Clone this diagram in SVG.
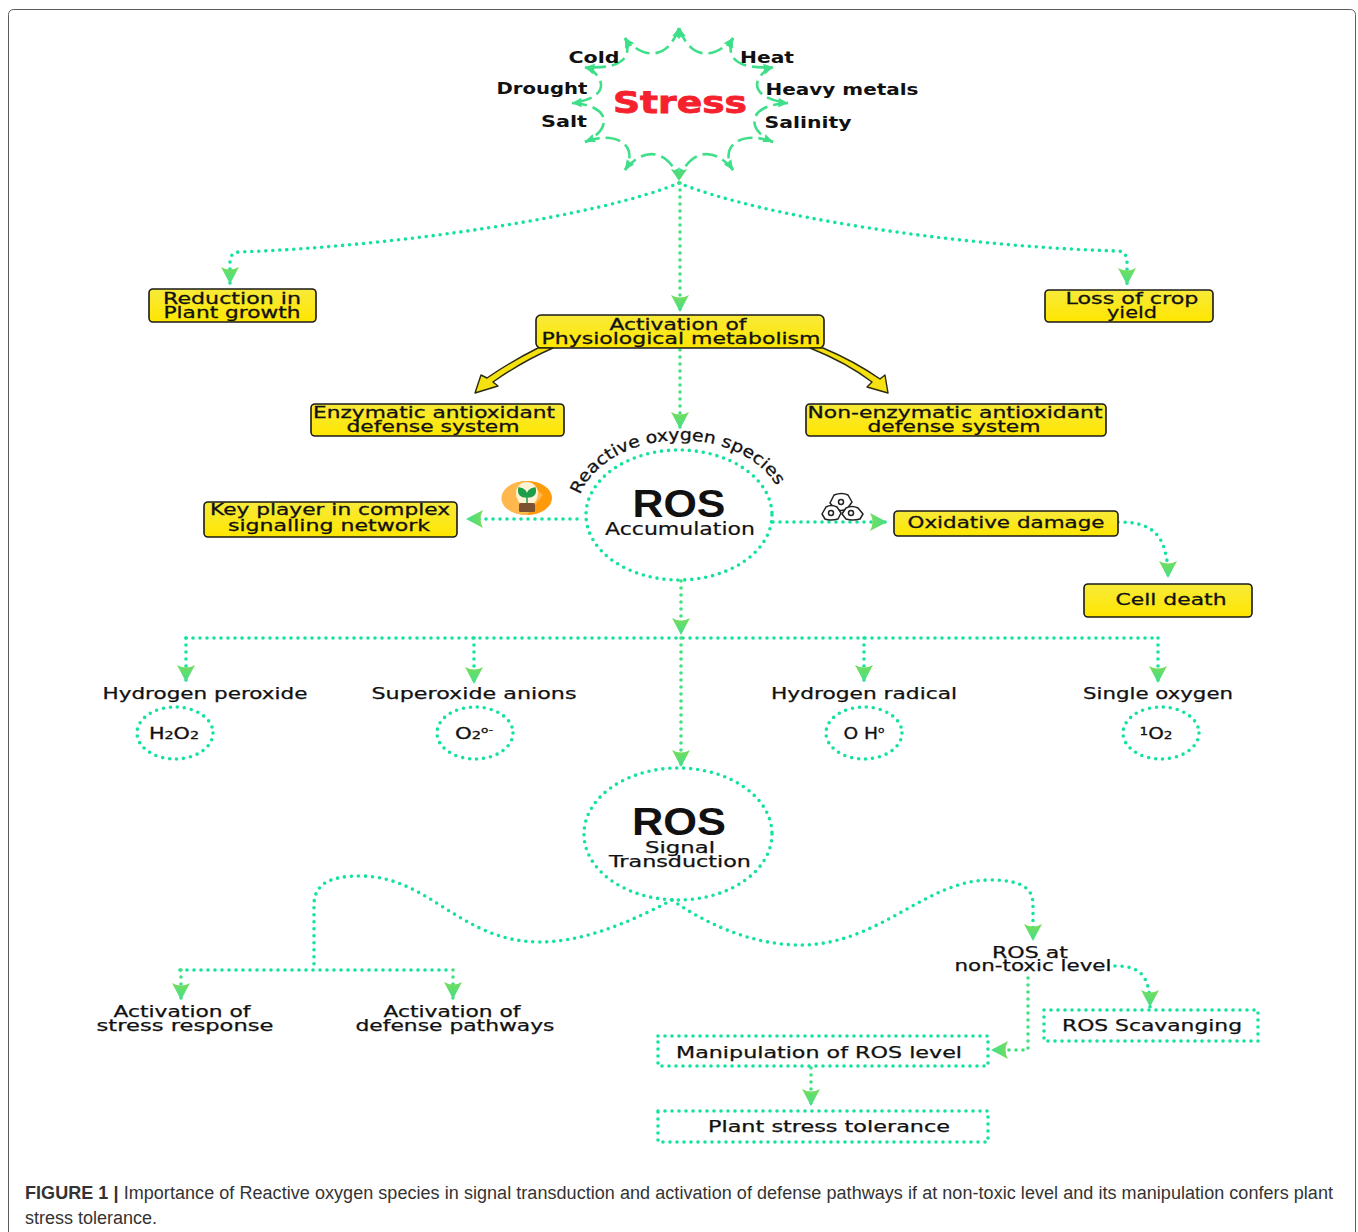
<svg xmlns="http://www.w3.org/2000/svg" width="1358" height="1232" viewBox="0 0 1358 1232">
<style>
text{font-family:"DejaVu Sans","Liberation Sans",sans-serif;fill:#111;text-anchor:middle}
.b{font-weight:700}
.box{fill:url(#yel);stroke:#1a1a1a;stroke-width:1.6}
.dot{fill:none;stroke:#14e39c;stroke-width:3.6;stroke-linecap:round;stroke-dasharray:0 7}
.gdot{fill:none;stroke:#44e080;stroke-width:3.6;stroke-linecap:round;stroke-dasharray:0 7}
.arr{marker-end:url(#ah)}
.star{fill:none;stroke:#3fdf8a;stroke-width:2.6;stroke-dasharray:15 6;marker-start:url(#sh);marker-end:url(#sh)}
.ya{fill:#f5e010;stroke:#2a2a10;stroke-width:1.4;stroke-linejoin:round}
.l{font-size:16.500px;stroke:#111;stroke-width:.3}
.m{font-size:15.500px;stroke:#111;stroke-width:.25}
.cap{font-family:"Liberation Sans",Arial,sans-serif;font-size:18px;fill:#333;text-anchor:start}
.ros{font-family:"Liberation Sans",Arial,sans-serif;font-weight:700;font-size:38px}
</style>
<defs>
<linearGradient id="yel" x1="0" y1="0" x2="0" y2="1"><stop offset="0" stop-color="#f7ea3a"/><stop offset="1" stop-color="#ffe600"/></linearGradient>
<linearGradient id="agr" x1="0" y1="0" x2="1" y2="0"><stop offset="0" stop-color="#78dc5a"/><stop offset="1" stop-color="#3fe08c"/></linearGradient>
<marker id="ah" viewBox="-1 -10 19 20" refX="17" refY="0" markerWidth="19" markerHeight="20" markerUnits="userSpaceOnUse" orient="auto"><path d="M0,-9 Q5,0 0,9 L17,0 Z" fill="url(#agr)"/></marker>
<marker id="sh" viewBox="-1 -6 12 12" refX="10" refY="0" markerWidth="12" markerHeight="12" markerUnits="userSpaceOnUse" orient="auto-start-reverse"><path d="M0,-4 Q2,0 0,4 L10,0 Z" fill="#3fdf8a"/></marker>
</defs>
<rect width="1358" height="1232" fill="#fff"/>
<rect x="8.500" y="9.500" width="1347" height="1240" rx="5" fill="#fff" stroke="#5c5c5c" stroke-width="1"/>

<g id="connectors">
<path class="dot arr" d="M679,183 C600,216 400,246 240,252 Q230,252 230,262 L230,284"/>
<path class="dot arr" d="M679,183 C760,216 950,246 1117,251 Q1127,251 1127,262 L1127,285"/>
<path class="gdot arr" d="M680,183 V312"/>
<path class="gdot arr" d="M680,350 V429"/>
<path class="dot arr" d="M577,519 H466"/>
<path class="dot arr" d="M773,522 H887"/>
<path class="dot arr" d="M1118,522 C1150,522 1168,532 1168,578"/>
<path class="gdot arr" d="M681,581 V635"/>
<path class="dot" d="M186,638 H1158"/>
<path class="dot arr" d="M186,638 V682"/>
<path class="dot arr" d="M474,638 V684"/>
<path class="dot arr" d="M864,638 V682"/>
<path class="dot arr" d="M1158,638 V683"/>
<path class="gdot arr" d="M681,638 V767"/>
<path class="dot" d="M672,900 C625,925 580,942 540,942 C460,942 430,876 360,876 C330,876 314,884 314,905 V970"/>
<path class="dot" d="M180,970 H453"/>
<path class="gdot arr" d="M181,970 V1000"/>
<path class="gdot arr" d="M453,970 V999"/>
<path class="dot arr" d="M672,900 C715,930 760,945 800,945 C880,945 925,880 990,880 C1025,880 1033,890 1033,905 V941"/>
<path class="dot arr" d="M1115,966 C1140,966 1150,975 1150,1007"/>
<path class="gdot arr" d="M1028,978 V1050 H991"/>
<path class="gdot arr" d="M811,1068 V1106"/>
</g>

<g id="stress">
<path class="star" d="M679,28 C690,60 715,60 733,38"/>
<path class="star" d="M733,38 C726,55 733,70 773,67"/>
<path class="star" d="M773,67 C753,75 746,98 788,103"/>
<path class="star" d="M788,103 C746,105 746,130 773,142"/>
<path class="star" d="M773,142 C743,130 718,145 733,170"/>
<path class="star" d="M733,170 C718,150 693,145 679,178"/>
<path class="star" d="M679,28 C668,60 643,60 625,38"/>
<path class="star" d="M625,38 C632,55 625,70 585,67"/>
<path class="star" d="M585,67 C605,75 612,98 572,103"/>
<path class="star" d="M572,103 C612,105 612,130 585,142"/>
<path class="star" d="M585,142 C615,130 640,145 625,170"/>
<path class="star" d="M625,170 C640,150 665,145 679,178"/>
<path d="M671,169 Q679,173 687,169 L679,181 Z" fill="#4fdc78"/>
<text x="680" y="113" class="b" font-size="30" textLength="134" lengthAdjust="spacingAndGlyphs" style="fill:#f5222d;stroke:#f5222d;stroke-width:.8">Stress</text>
<text x="594" y="63" class="b" font-size="16" textLength="51" lengthAdjust="spacingAndGlyphs">Cold</text>
<text x="767" y="63" class="b" font-size="16" textLength="54" lengthAdjust="spacingAndGlyphs">Heat</text>
<text x="542" y="94" class="b" font-size="16" textLength="91" lengthAdjust="spacingAndGlyphs">Drought</text>
<text x="842" y="95" class="b" font-size="16" textLength="153" lengthAdjust="spacingAndGlyphs">Heavy metals</text>
<text x="564" y="127" class="b" font-size="16" textLength="46" lengthAdjust="spacingAndGlyphs">Salt</text>
<text x="808" y="128" class="b" font-size="16" textLength="87" lengthAdjust="spacingAndGlyphs">Salinity</text>
</g>

<g id="reduction"><rect class="box" x="149" y="289" width="167" height="33" rx="4"/>
<text x="232" y="304" class="l" textLength="138" lengthAdjust="spacingAndGlyphs">Reduction in</text>
<text x="232" y="318" class="l" textLength="137" lengthAdjust="spacingAndGlyphs">Plant growth</text></g>
<g id="loss"><rect class="box" x="1045" y="290" width="168" height="32" rx="4"/>
<text x="1132" y="304" class="l" textLength="133" lengthAdjust="spacingAndGlyphs">Loss of crop</text>
<text x="1132" y="318" class="l" textLength="50" lengthAdjust="spacingAndGlyphs">yield</text></g>
<g id="activation"><rect class="box" x="536" y="315" width="288" height="33" rx="5"/>
<text x="678" y="330" class="l" textLength="137" lengthAdjust="spacingAndGlyphs">Activation of</text>
<text x="681" y="344" class="l" textLength="279" lengthAdjust="spacingAndGlyphs">Physiological metabolism</text></g>
<g id="yellow-arrows">
<path class="ya" d="M538,348 C520,357 503,367 487,378 L481,375 L475,393 L498,386 L493,382 C510,370 530,358 553,348 Z"/>
<path class="ya" d="M810,348 C835,358 855,369 872,382 L867,387 L888,393 L885,375 L880,379 C860,365 842,356 823,348 Z"/>
</g>
<g id="enzymatic"><rect class="box" x="311" y="404" width="253" height="32" rx="4"/>
<text x="434" y="418" class="l" textLength="242" lengthAdjust="spacingAndGlyphs">Enzymatic antioxidant</text>
<text x="433" y="432" class="l" textLength="173" lengthAdjust="spacingAndGlyphs">defense system</text></g>
<g id="non-enzymatic"><rect class="box" x="806" y="404" width="300" height="32" rx="4"/>
<text x="955" y="418" class="l" textLength="295" lengthAdjust="spacingAndGlyphs">Non-enzymatic antioxidant</text>
<text x="954" y="432" class="l" textLength="173" lengthAdjust="spacingAndGlyphs">defense system</text></g>

<g id="ros-accumulation">
<ellipse class="dot" cx="679" cy="515" rx="93" ry="65"/>
<path id="arcR" d="M580,495 A104 74 0 0 1 783,502" fill="none"/>
<text font-size="16.500" style="text-anchor:start;stroke:#111;stroke-width:.3"><textPath href="#arcR" textLength="232" lengthAdjust="spacingAndGlyphs">Reactive oxygen species</textPath></text>
<text x="679" y="517" class="ros" textLength="93" lengthAdjust="spacingAndGlyphs">ROS</text>
<text x="680" y="535" font-size="17" textLength="150" lengthAdjust="spacingAndGlyphs" style="stroke:#111;stroke-width:.2">Accumulation</text>
</g>
<g id="key-player"><rect class="box" x="204" y="502" width="253" height="35" rx="4"/>
<text x="330" y="515" class="l" textLength="240" lengthAdjust="spacingAndGlyphs">Key player in complex</text>
<text x="329" y="531" class="l" textLength="202" lengthAdjust="spacingAndGlyphs">signalling network</text></g>
<g id="plant-icon">
<ellipse cx="527" cy="498" rx="25" ry="17" fill="#ff9a0a"/>
<path d="M515,483 A25,17 0 0 0 512,512 A25,17 0 0 0 527,515 L543,495 L527,481 Z" fill="#ffb84d"/>
<path d="M516,493 A11,11 0 0 1 538,493 Q538,500 533,504 H521 Q516,500 516,493 Z" fill="#fff3d6"/>
<rect x="519" y="503" width="16" height="9" rx="1.500" fill="#7b5231"/>
<path d="M527,503 V494 M527,497 Q517,497 519,488 Q527,489 527,497 M527,497 Q537,497 535,488 Q527,489 527,497" fill="#1f9e4a" stroke="#1f9e4a" stroke-width="1.500"/>
</g>
<g id="cells-icon" fill="#fff" stroke="#222" stroke-width="1.500" stroke-linejoin="round">
<path d="M834,495 Q842,492 848,495 L852,502 L847,509 Q841,512 835,509 L830,503 Z"/>
<path d="M826,507 Q831,504 837,507 L841,513 L838,519 Q830,521 825,519 L822,514 Z"/>
<path d="M846,508 Q852,505 858,508 L863,514 L860,519 Q852,521 846,519 L842,514 Z"/>
<circle cx="841" cy="502" r="2.500"/><circle cx="831" cy="513" r="2.500"/><circle cx="851" cy="513" r="2.500"/>
</g>
<g id="oxidative"><rect class="box" x="894" y="511" width="224" height="25" rx="4"/>
<text x="1006" y="528" class="l" textLength="197" lengthAdjust="spacingAndGlyphs">Oxidative damage</text></g>
<g id="cell-death"><rect class="box" x="1084" y="584" width="168" height="33" rx="4"/>
<text x="1171" y="605" class="l" textLength="111" lengthAdjust="spacingAndGlyphs">Cell death</text></g>

<g id="h2o2"><text x="205" y="699" class="m" textLength="205" lengthAdjust="spacingAndGlyphs">Hydrogen peroxide</text>
<ellipse class="dot" cx="175" cy="733" rx="38" ry="26"/>
<text x="174" y="739" font-size="16" textLength="50" lengthAdjust="spacingAndGlyphs" style="stroke:#111;stroke-width:.3">H<tspan font-size="11">2</tspan>O<tspan font-size="11">2</tspan></text></g>
<g id="superoxide"><text x="474" y="699" class="m" textLength="205" lengthAdjust="spacingAndGlyphs">Superoxide anions</text>
<ellipse class="dot" cx="475" cy="733" rx="38" ry="26"/>
<text x="474" y="739" font-size="16" textLength="38" lengthAdjust="spacingAndGlyphs" style="stroke:#111;stroke-width:.3">O<tspan font-size="11">2</tspan><tspan font-size="9" dy="-6">o-</tspan></text></g>
<g id="radical"><text x="864" y="699" class="m" textLength="186" lengthAdjust="spacingAndGlyphs">Hydrogen radical</text>
<ellipse class="dot" cx="864" cy="733" rx="38" ry="26"/>
<text x="864" y="739" font-size="16" textLength="41" lengthAdjust="spacingAndGlyphs" style="stroke:#111;stroke-width:.3">O H<tspan font-size="9" dy="-6">o</tspan></text></g>
<g id="single"><text x="1158" y="699" class="m" textLength="150" lengthAdjust="spacingAndGlyphs">Single oxygen</text>
<ellipse class="dot" cx="1161" cy="733" rx="38" ry="26"/>
<text x="1156" y="739" font-size="16" textLength="33" lengthAdjust="spacingAndGlyphs" style="stroke:#111;stroke-width:.3"><tspan font-size="11" dy="-4">1</tspan><tspan dy="4">O</tspan><tspan font-size="11">2</tspan></text></g>

<g id="ros-signal">
<ellipse class="dot" cx="678" cy="834" rx="94" ry="66"/>
<text x="679" y="835" class="ros" textLength="94" lengthAdjust="spacingAndGlyphs">ROS</text>
<text x="680" y="853" class="m" textLength="70" lengthAdjust="spacingAndGlyphs">Signal</text>
<text x="680" y="867" class="m" textLength="142" lengthAdjust="spacingAndGlyphs">Transduction</text>
</g>
<g id="stress-response">
<text x="182" y="1017" class="m" textLength="137" lengthAdjust="spacingAndGlyphs">Activation of</text>
<text x="185" y="1031" class="m" textLength="177" lengthAdjust="spacingAndGlyphs">stress response</text></g>
<g id="defense-pathways">
<text x="452" y="1017" class="m" textLength="137" lengthAdjust="spacingAndGlyphs">Activation of</text>
<text x="455" y="1031" class="m" textLength="199" lengthAdjust="spacingAndGlyphs">defense pathways</text></g>
<g id="non-toxic">
<text x="1030" y="958" class="m" textLength="76" lengthAdjust="spacingAndGlyphs">ROS at</text>
<text x="1033" y="971" class="m" textLength="157" lengthAdjust="spacingAndGlyphs">non-toxic level</text></g>
<g id="scavanging"><rect class="dot" x="1044" y="1010" width="214" height="31"/>
<text x="1152" y="1031" class="m" textLength="180" lengthAdjust="spacingAndGlyphs">ROS Scavanging</text></g>
<g id="manipulation"><rect class="dot" x="658" y="1036" width="330" height="30"/>
<text x="819" y="1058" class="m" textLength="286" lengthAdjust="spacingAndGlyphs">Manipulation of ROS level</text></g>
<g id="tolerance"><rect class="dot" x="658" y="1111" width="330" height="31"/>
<text x="829" y="1132" class="m" textLength="242" lengthAdjust="spacingAndGlyphs">Plant stress tolerance</text></g>

<g id="caption">
<text x="25" y="1199" class="cap" textLength="1308"><tspan font-weight="700">FIGURE 1 |</tspan> Importance of Reactive oxygen species in signal transduction and activation of defense pathways if at non-toxic level and its manipulation confers plant</text>
<text x="25" y="1224" class="cap">stress tolerance.</text>
</g>
</svg>
